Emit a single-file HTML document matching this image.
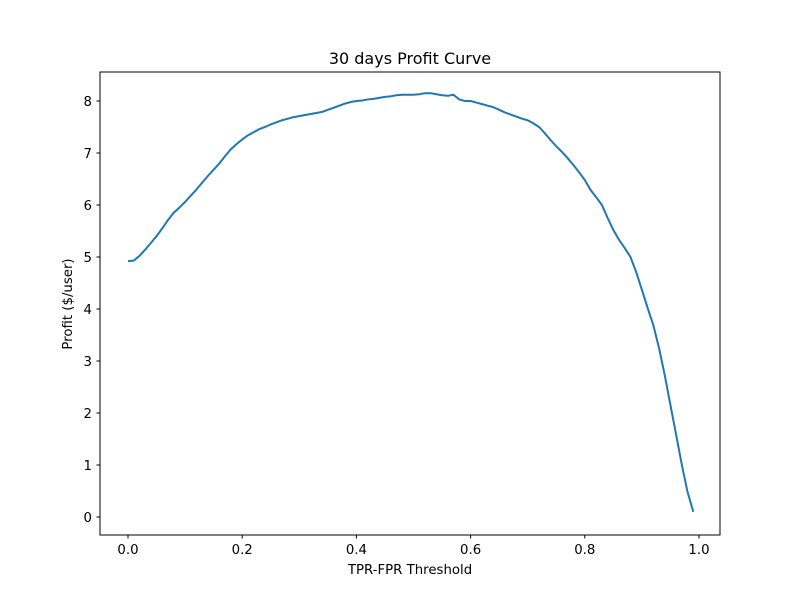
<!DOCTYPE html>
<html><head><meta charset="utf-8"><style>
body{margin:0;background:#fff}
svg{display:block;font-family:"DejaVu Sans","Liberation Sans",sans-serif}
</style></head><body>
<svg id="chart" width="800" height="600">
<rect x="0" y="0" width="800" height="600" fill="#fff"/>
<text x="410" y="64" font-size="16" text-anchor="middle">30 days Profit Curve</text>
<text x="410" y="574" font-size="13.3" text-anchor="middle">TPR-FPR Threshold</text>
<text transform="translate(72,304) rotate(-90)" font-size="13.3" text-anchor="middle">Profit ($/user)</text>
<g id="ticks"></g>
<polyline id="line" fill="none" stroke="#1f77b4" stroke-width="2" stroke-linejoin="round"/>
<rect x="100" y="72" width="620" height="463" fill="none" stroke="#000" stroke-width="1"/>
</svg>
<script>
const thresholds = Array.from({length:100},(_,i)=>i/100);
const profits = [4.92,4.93,5.02,5.14,5.27,5.40,5.55,5.71,5.85,5.95,
6.06,6.18,6.30,6.43,6.56,6.68,6.80,6.94,7.07,7.17,
7.26,7.34,7.40,7.46,7.50,7.55,7.59,7.63,7.66,7.69,
7.71,7.73,7.75,7.77,7.79,7.83,7.87,7.91,7.95,7.98,
8.00,8.01,8.03,8.04,8.06,8.08,8.09,8.11,8.12,8.12,
8.12,8.13,8.15,8.15,8.13,8.11,8.10,8.12,8.03,8.00,
8.00,7.97,7.94,7.91,7.88,7.83,7.78,7.74,7.70,7.66,
7.63,7.57,7.50,7.38,7.25,7.13,7.02,6.90,6.77,6.63,
6.48,6.29,6.15,6.00,5.75,5.52,5.33,5.17,5.00,4.71,
4.37,4.02,3.69,3.25,2.73,2.15,1.58,1.00,0.48,0.10];
const xTicks = [0,0.2,0.4,0.6,0.8,1.0];
const xTickLabels = ["0.0","0.2","0.4","0.6","0.8","1.0"];
const yTicks = [0,1,2,3,4,5,6,7,8];
const yTickLabels = ["0","1","2","3","4","5","6","7","8"];

const sx = v => 128 + v*571;
const sy = v => 517 - v*52;
const NS = "http://www.w3.org/2000/svg";
const g = document.getElementById('ticks');
function mk(tag, attrs){const e=document.createElementNS(NS,tag);for(const k in attrs)e.setAttribute(k,attrs[k]);return e;}
xTicks.forEach((t,i)=>{
  const l = mk('line',{x1:sx(t),x2:sx(t),y1:535,y2:538.5,stroke:'#000'});
  
  
  g.appendChild(l);
  const tx = mk('text',{x:sx(t),y:554,'font-size':13.3,'text-anchor':'middle'});
  tx.textContent = xTickLabels[i];
  
  
  g.appendChild(tx);
});
yTicks.forEach((t,i)=>{
  const l = mk('line',{x1:96.5,x2:100,y1:sy(t),y2:sy(t),stroke:'#000'});
  
  
  g.appendChild(l);
  const tx = mk('text',{x:92,y:sy(t)+5,'font-size':13.3,'text-anchor':'end'});
  tx.textContent = yTickLabels[i];
  
  
  g.appendChild(tx);
});
document.getElementById('line').setAttribute('points', profits.map((p,i)=>sx(thresholds[i])+','+sy(p)).join(' '));
</script>
</body></html>
